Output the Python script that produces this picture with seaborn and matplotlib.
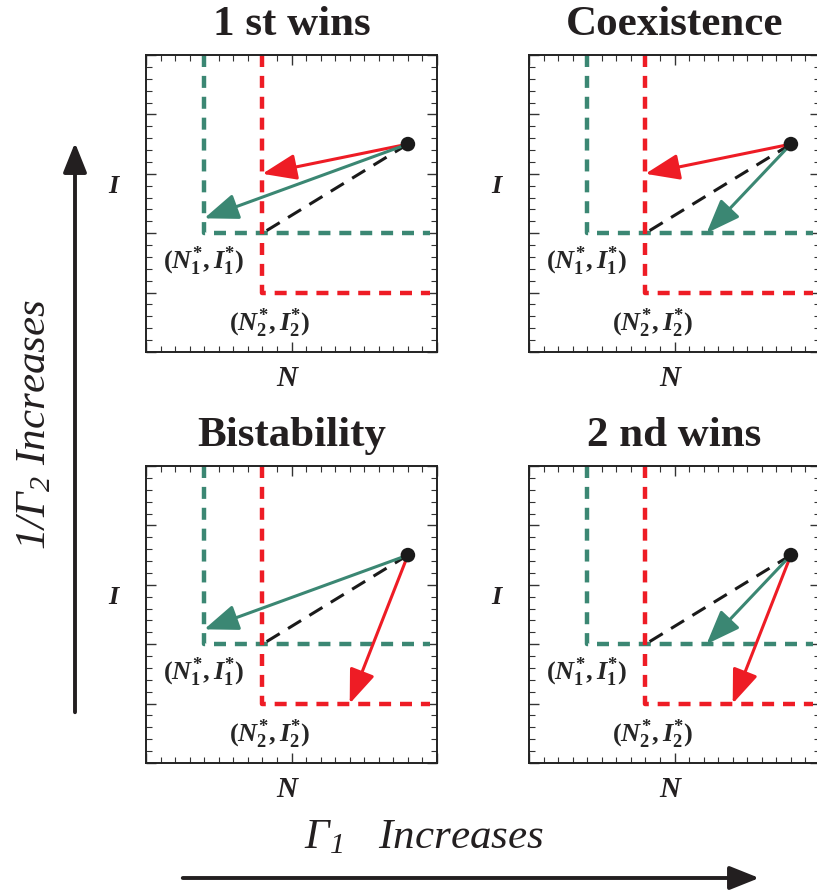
import numpy as np
import pandas as pd
import seaborn as sns
import matplotlib
matplotlib.use("Agg")
import matplotlib.pyplot as plt
from matplotlib.ticker import MultipleLocator

# Datos de los cuatro paneles
titles = ["1 st wins", "Coexistence", "Bistability", "2 nd wins"]
eq1 = (0.4, 2.0)        # (N1*, I1*)
eq2 = (0.8, 1.0)        # (N2*, I2*)
start = (1.8, 3.5)      # punto de suministro
green_tip_x = [0.4, 1.22, 0.4, 1.22]
green_tip_y = [2.25, 2.0, 2.25, 2.0]
red_tip_x = [0.8, 0.8, 1.4, 1.4]
red_tip_y = [3.0, 3.0, 1.0, 1.0]
x_end = 1.95
y_top = 5.0

green = "#3b8773"
red = "#ee1c25"

sns.set_style("ticks")
plt.rcParams["font.family"] = ["Liberation Serif", "DejaVu Serif"]
plt.rcParams["mathtext.fontset"] = "custom"
plt.rcParams["mathtext.rm"] = "Liberation Serif:bold"
plt.rcParams["mathtext.it"] = "Liberation Serif:italic:bold"
plt.rcParams["mathtext.bf"] = "Liberation Serif:bold"
plt.rcParams["mathtext.sf"] = "Liberation Serif:italic"

fig = plt.figure(figsize=(8.17, 8.94), dpi=100)

W, H = 817.0, 894.0
lefts = [146, 529, 146, 529]
tops = [55, 55, 466, 466]
aw, ah = 291, 297

for k in range(4):
    ax = fig.add_axes([lefts[k] / W, 1 - (tops[k] + ah) / H, aw / W, ah / H])

    # lineas de equilibrio (en L)
    g = pd.DataFrame({"x": [eq1[0], eq1[0], x_end], "y": [y_top, eq1[1], eq1[1]]})
    r = pd.DataFrame({"x": [eq2[0], eq2[0], x_end], "y": [y_top, eq2[1], eq2[1]]})
    sns.lineplot(data=g, x="x", y="y", ax=ax, sort=False, estimator=None,
                 color=green, lw=3.2, linestyle=(0, (2.7, 2.0)),
                 dash_joinstyle="round", dash_capstyle="butt")
    sns.lineplot(data=r, x="x", y="y", ax=ax, sort=False, estimator=None,
                 color=red, lw=3.2, linestyle=(0, (2.7, 2.0)), dash_capstyle="butt")

    # linea negra discontinua
    b = pd.DataFrame({"x": [start[0], eq2[0]], "y": [start[1], eq1[1]]})
    sns.lineplot(data=b, x="x", y="y", ax=ax, sort=False, estimator=None,
                 color="#1a1a1a", lw=2.2, linestyle=(0, (5, 3.2)))

    # flechas
    ax.annotate("", xy=(red_tip_x[k], red_tip_y[k]), xytext=start,
                arrowprops=dict(arrowstyle="-|>,head_length=1.1,head_width=0.42",
                                color=red, lw=2.2, shrinkA=0, shrinkB=0,
                                mutation_scale=19))
    ax.annotate("", xy=(green_tip_x[k], green_tip_y[k]), xytext=start,
                arrowprops=dict(arrowstyle="-|>,head_length=1.1,head_width=0.42",
                                color=green, lw=2.2, shrinkA=0, shrinkB=0,
                                mutation_scale=19))

    sns.scatterplot(x=[start[0]], y=[start[1]], ax=ax, color="#1a1a1a",
                    s=110, edgecolor="none", zorder=5)

    ax.text(eq1[0], 1.52, r"$(N^{*}_{1},I^{*}_{1})$", ha="center", va="center", fontsize=19)
    ax.text(0.85, 0.49, r"$(N^{*}_{2},I^{*}_{2})$", ha="center", va="center", fontsize=19)

    ax.set_xlim(0, 2)
    ax.set_ylim(0, 5)
    ax.xaxis.set_major_locator(MultipleLocator(1))
    ax.xaxis.set_minor_locator(MultipleLocator(0.1))
    ax.yaxis.set_major_locator(MultipleLocator(1))
    ax.yaxis.set_minor_locator(MultipleLocator(0.2))
    ax.tick_params(which="both", direction="in", top=True, right=True,
                   labelbottom=False, labelleft=False, color="#333333")
    ax.tick_params(which="major", length=7, width=1.0)
    ax.tick_params(which="minor", length=4, width=0.8)
    for s in ax.spines.values():
        s.set_linewidth(1.4)
        s.set_color("#222222")
    ax.set_xlabel("")
    ax.set_ylabel("")

    ax.text(0.5, 1.10, titles[k], transform=ax.transAxes, ha="center", va="center",
            fontsize=31, fontweight="bold", color="#231f20")
    ax.text(0.485, -0.088, "N", transform=ax.transAxes, ha="center", va="center",
            fontsize=21, fontweight="bold", fontstyle="italic", color="#231f20")
    ax.text(-0.113, 0.556, "I", transform=ax.transAxes, ha="center", va="center",
            fontsize=19, fontweight="bold", fontstyle="italic", color="#231f20")

# flechas grandes de los ejes
fig.add_artist(matplotlib.patches.FancyArrowPatch(
    (75 / W, 1 - 715 / H), (75 / W, 1 - 140 / H), transform=fig.transFigure,
    arrowstyle="-|>,head_length=1.0,head_width=0.4", mutation_scale=18,
    color="#231f20", lw=2.8))
fig.add_artist(matplotlib.patches.FancyArrowPatch(
    (180 / W, 1 - 878 / H), (762 / W, 1 - 878 / H), transform=fig.transFigure,
    arrowstyle="-|>,head_length=1.0,head_width=0.4", mutation_scale=18,
    color="#231f20", lw=2.8))

fig.text(35 / W, 1 - 425 / H, r"$\mathsf{1/\Gamma_2\ Increases}$", rotation=90,
         ha="center", va="center", fontsize=31, color="#231f20")
fig.text(424 / W, 1 - 838 / H, r"$\mathsf{\Gamma_1\ \ \ Increases}$",
         ha="center", va="center", fontsize=31, color="#231f20")

fig.savefig("out.png", dpi=100)
